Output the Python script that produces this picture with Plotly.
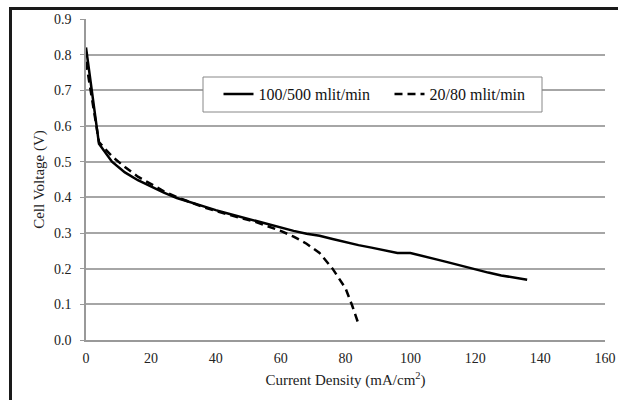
import plotly.graph_objects as go

# Data
cd_high = [0, 4, 8, 12, 16, 20, 24, 28, 32, 36, 40, 44, 48, 52, 56, 60, 64, 68,
           72, 76, 80, 84, 88, 92, 96, 100, 104, 108, 112, 116, 120, 124, 128, 132, 136]
v_high = [0.82, 0.55, 0.50, 0.47, 0.448, 0.43, 0.413, 0.398, 0.386, 0.375, 0.364,
          0.354, 0.344, 0.335, 0.326, 0.316, 0.306, 0.298, 0.292, 0.283, 0.274,
          0.266, 0.259, 0.252, 0.244, 0.244, 0.236, 0.226, 0.217, 0.207, 0.198,
          0.189, 0.181, 0.175, 0.169]

cd_low = [0, 4, 8, 12, 16, 20, 24, 28, 32, 36, 40, 44, 48, 52, 56, 60, 64, 68,
          72, 76, 80, 82, 84]
v_low = [0.78, 0.555, 0.515, 0.485, 0.458, 0.437, 0.417, 0.401, 0.386, 0.373,
         0.362, 0.351, 0.341, 0.332, 0.319, 0.306, 0.29, 0.27, 0.244, 0.2, 0.145,
         0.098, 0.045]

series_names = ["100/500 mlit/min", "20/80 mlit/min"]
x_ticks = [0, 20, 40, 60, 80, 100, 120, 140, 160]
y_ticks = [0.0, 0.1, 0.2, 0.3, 0.4, 0.5, 0.6, 0.7, 0.8, 0.9]

W, H = 618, 400
ML, MR, MT, MB = 86, 13, 19, 60
PW, PH = W - ML - MR, H - MT - MB

def px_to_paper_x(px):
    return (px - ML) / PW

def px_to_paper_y(py):
    return (H - MB - py) / PH

FONT = "Liberation Serif"

fig = go.Figure()
fig.add_trace(go.Scatter(x=cd_high, y=v_high, mode="lines", name=series_names[0],
                         line=dict(color="black", width=2.5)))
fig.add_trace(go.Scatter(x=cd_low, y=v_low, mode="lines", name=series_names[1],
                         line=dict(color="black", width=2.5, dash="8px,5px")))

# Outer partial frame (top and left heavy border)
fig.add_shape(type="line", xref="paper", yref="paper", layer="above",
              x0=px_to_paper_x(9), x1=px_to_paper_x(W + 2),
              y0=px_to_paper_y(8.5), y1=px_to_paper_y(8.5),
              line=dict(color="#1a1a1a", width=3))
fig.add_shape(type="line", xref="paper", yref="paper", layer="above",
              x0=px_to_paper_x(10.5), x1=px_to_paper_x(10.5),
              y0=px_to_paper_y(7), y1=px_to_paper_y(H + 2),
              line=dict(color="#1a1a1a", width=3))
# Legend box
fig.add_shape(type="rect", xref="paper", yref="paper", layer="above",
              x0=px_to_paper_x(203), x1=px_to_paper_x(542),
              y0=px_to_paper_y(77), y1=px_to_paper_y(112),
              fillcolor="white", line=dict(color="#888", width=1))

fig.update_layout(
    width=W, height=H,
    margin=dict(l=ML, r=MR, t=MT, b=MB, autoexpand=False),
    paper_bgcolor="white", plot_bgcolor="white",
    font=dict(family=FONT, size=14, color="#222"),
    showlegend=True,
    legend=dict(orientation="h", x=px_to_paper_x(218.5), y=px_to_paper_y(77),
                xanchor="left", yanchor="top",
                bgcolor="rgba(0,0,0,0)", borderwidth=0,
                font=dict(family=FONT, size=16, color="#111"),
                entrywidth=126, entrywidthmode="pixels"),
    xaxis=dict(range=[0, 160], tickvals=x_ticks, ticktext=[str(v) for v in x_ticks],
               showgrid=False, zeroline=False, showline=True, linecolor="#999",
               linewidth=1.5, ticks="outside", ticklen=4, tickcolor="rgba(0,0,0,0)",
               fixedrange=True, automargin=False,
               title=dict(text="Current Density (mA/cm<sup>2</sup>)", standoff=10,
                          font=dict(family=FONT, size=15, color="#222")),
               tickfont=dict(family=FONT, size=14, color="#222")),
    yaxis=dict(range=[0, 0.9], tickvals=y_ticks, ticktext=[f"{v:.1f}" for v in y_ticks],
               showgrid=True, gridcolor="#a6a6a6", gridwidth=1.5, zeroline=False,
               showline=True, linecolor="#999", linewidth=1.5,
               ticks="outside", ticklen=4, tickcolor="#999", ticklabelstandoff=6,
               fixedrange=True, automargin=False,
               title=dict(text="Cell Voltage (V)", standoff=6,
                          font=dict(family=FONT, size=15, color="#222")),
               tickfont=dict(family=FONT, size=14, color="#222")),
)

fig.write_html("out.html", config={"displayModeBar": False},
               post_script="document.body.style.margin='0';")
